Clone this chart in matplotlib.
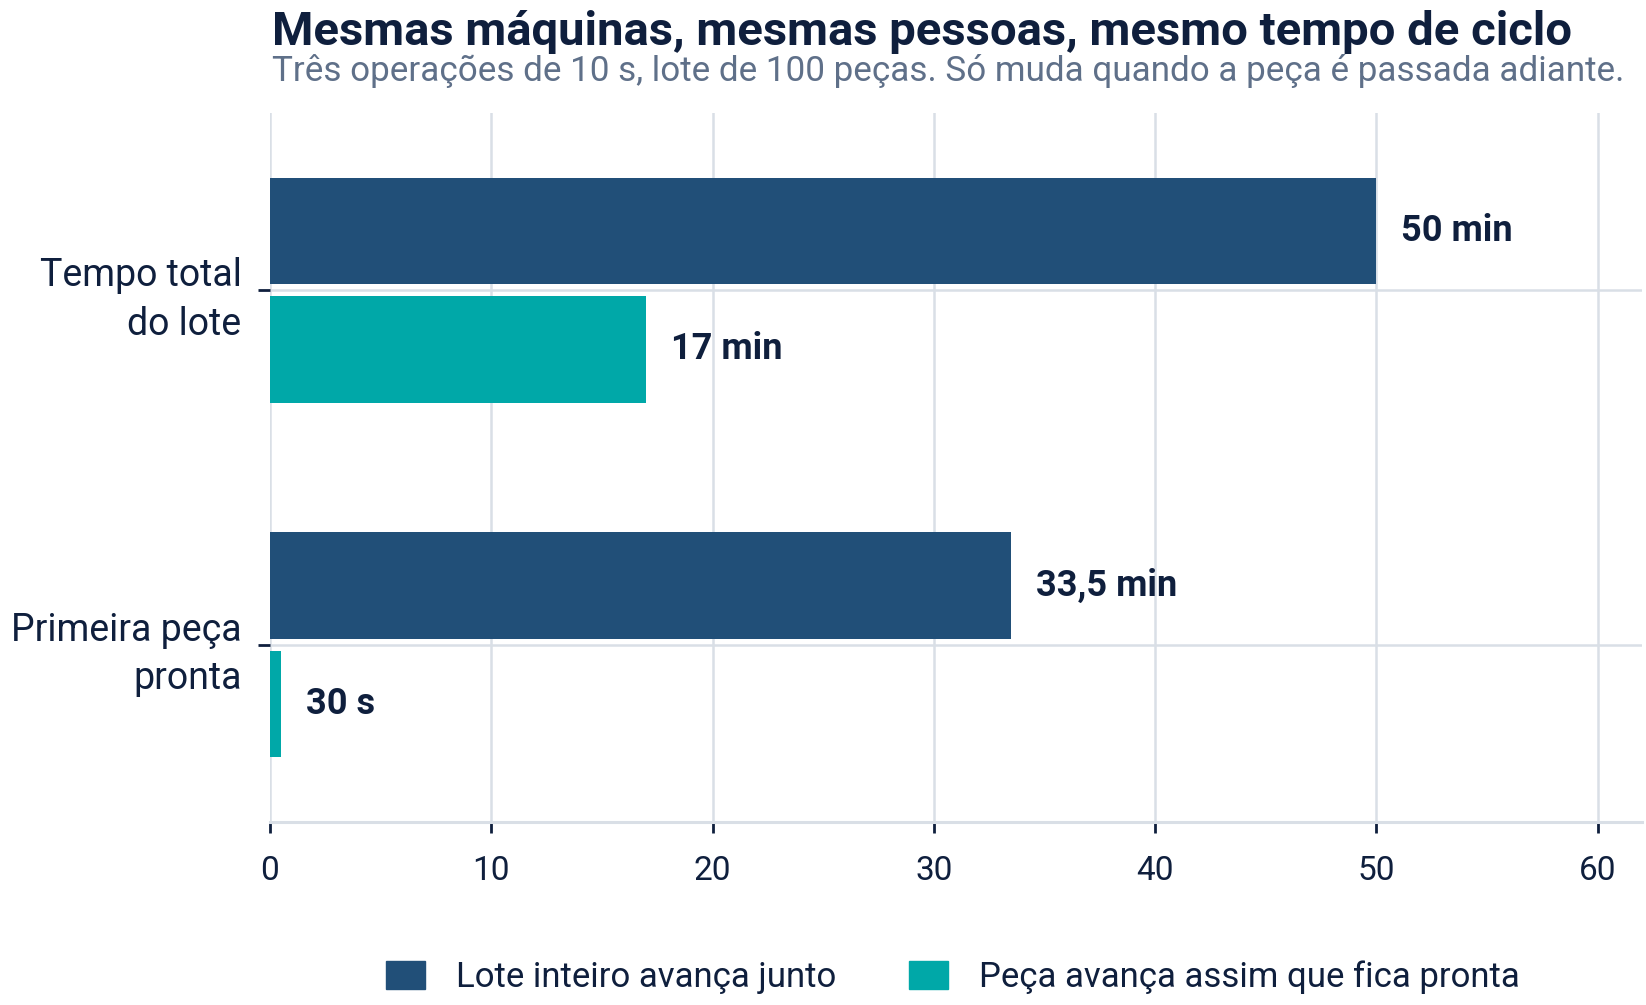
import matplotlib.pyplot as plt
import numpy as np
from matplotlib.patches import Patch

categories = ["Tempo total\ndo lote", "Primeira peça\npronta"]
lote_values = [50, 33.5]
peca_values = [17, 0.5]
lote_labels = ["50 min", "33,5 min"]
peca_labels = ["17 min", "30 s"]
series_names = ["Lote inteiro avança junto", "Peça avança assim que fica pronta"]
x_ticks = [0, 10, 20, 30, 40, 50, 60]

DARK = "#214f78"
TEAL = "#00a8a8"
TEXT = "#0f1f3d"
GRID = "#d9dfe6"

plt.rcParams['font.family'] = ['Roboto', 'DejaVu Sans']

W, H = 1646, 1005
fig = plt.figure(figsize=(W / 100, H / 100), dpi=100)
ax = fig.add_axes([270 / W, 1 - 822 / H, (1642 - 270) / W, (822 - 113) / H])

y = np.arange(len(categories))
offset = 0.167
height = 0.30
bars1 = ax.barh(y - offset, lote_values, height=height, color=DARK, zorder=2)
bars2 = ax.barh(y + offset, peca_values, height=height, color=TEAL, zorder=2)

# value labels at the end of each bar
for bars, labels in [(bars1, lote_labels), (bars2, peca_labels)]:
    for b, lab in zip(bars, labels):
        ax.annotate(lab, (b.get_width(), b.get_y() + b.get_height() / 2),
                    xytext=(18, 0), textcoords="offset points",
                    va="center", ha="left", fontsize=26, fontweight="bold", color=TEXT)

ax.set_xlim(0, 62)
ax.set_ylim(1.5, -0.5)
ax.set_xticks(x_ticks)
ax.set_yticks(y)
ax.set_yticklabels(categories, fontsize=27, color=TEXT, linespacing=1.4)
ax.tick_params(axis="x", labelsize=24, labelcolor=TEXT, color=TEXT, length=8, width=2, pad=16)
ax.tick_params(axis="y", color=TEXT, length=8.5, width=2, pad=12)
ax.grid(True, color=GRID, linewidth=1.8, zorder=0)
ax.set_axisbelow(True)
for s in ["top", "right", "left"]:
    ax.spines[s].set_visible(False)
ax.spines["bottom"].set_color(GRID)
ax.spines["bottom"].set_linewidth(2.2)

fig.text(272 / W, 1 - 45 / H, "Mesmas máquinas, mesmas pessoas, mesmo tempo de ciclo",
         fontsize=34, fontweight="bold", color=TEXT, ha="left", va="baseline")
fig.text(272 / W, 1 - 81 / H, "Três operações de 10 s, lote de 100 peças. Só muda quando a peça é passada adiante.",
         fontsize=25.2, color="#5f7089", ha="left", va="baseline")

handles = [Patch(color=DARK), Patch(color=TEAL)]
fig.legend(handles, series_names, loc="center", bbox_to_anchor=(953 / W, 1 - 977 / H),
           ncol=2, frameon=False, fontsize=25, labelcolor=TEXT,
           handlelength=1.12, handleheight=0.86, handletextpad=0.9, columnspacing=2.1)

fig.savefig("out.png", dpi=100)
